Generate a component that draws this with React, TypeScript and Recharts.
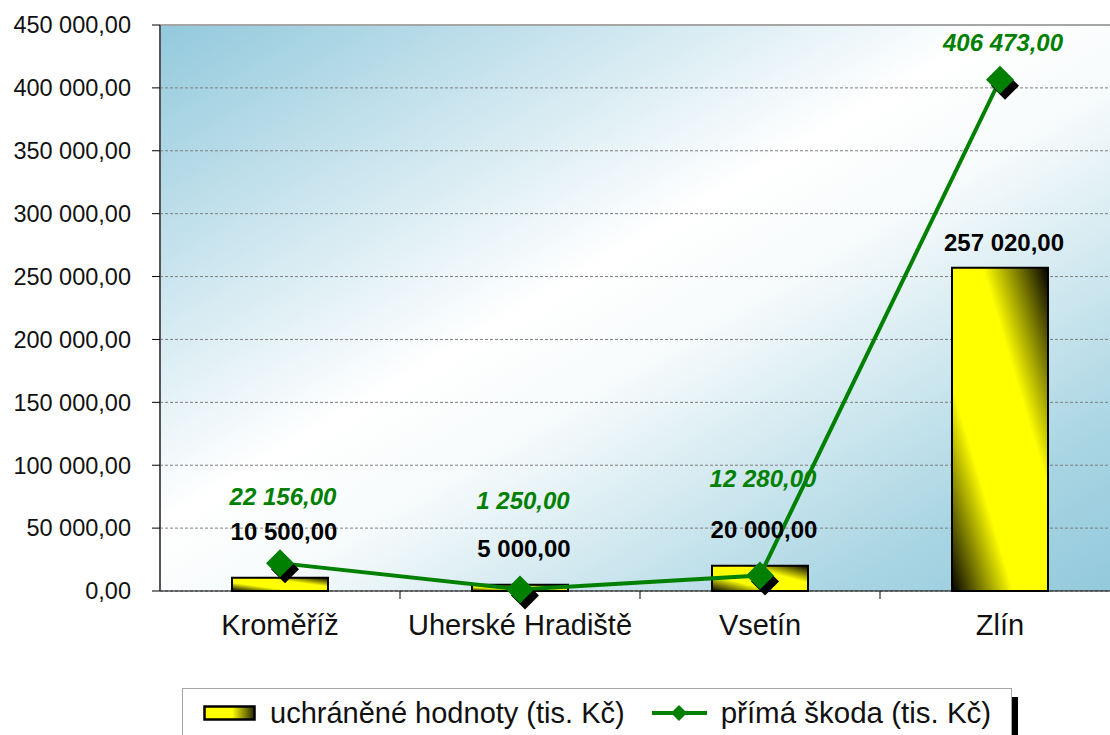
import React from 'react';
import {
  ComposedChart,
  Bar,
  Line,
  XAxis,
  YAxis,
  CartesianGrid,
  ReferenceLine,
  LabelList,
} from 'recharts';

// districts of the Zlín region
const districts = ['Kroměříž', 'Uherské Hradiště', 'Vsetín', 'Zlín'];
// uchráněné hodnoty (tis. Kč)
const savedValues = [10500, 5000, 20000, 257020];
// přímá škoda (tis. Kč)
const damageValues = [22156, 1250, 12280, 406473];
const yTicks = [0, 50000, 100000, 150000, 200000, 250000, 300000, 350000, 400000, 450000];

// how far above the mark each value label sits (Excel moved them around)
const barLabelLift = [46, 36, 36, 25];
const lineLabelLift = [66, 88, 97, 37];

const data = districts.map((name, i) => ({
  name,
  saved: savedValues[i],
  damage: damageValues[i],
}));

const FONT = 'Arial, "Liberation Sans", sans-serif';
const GREEN = '#008000';

function formatCz(v: number): string {
  const [whole, dec] = v.toFixed(2).split('.');
  return whole.replace(/\B(?=(\d{3})+(?!\d))/g, ' ') + ',' + dec;
}

function CategoryTick(props: any) {
  const { x, y, payload, index, visibleTicksCount } = props;
  const half = payload?.offset || 120;
  const isLast = index === (visibleTicksCount ?? districts.length) - 1;
  return (
    <g>
      <text
        x={x}
        y={y + 44}
        textAnchor="middle"
        fontFamily={FONT}
        fontSize={29}
        fill="#111"
      >
        {payload.value}
      </text>
      {!isLast && (
        <line x1={x + half} x2={x + half} y1={y} y2={y + 8} stroke="#000" strokeWidth={1} />
      )}
    </g>
  );
}

function BarValueLabel(props: any) {
  const { x, y, width, value, index } = props;
  const lift = barLabelLift[index ?? 0] ?? 30;
  return (
    <text
      x={x + width / 2 + 4}
      y={y - lift + 8}
      textAnchor="middle"
      fontFamily={FONT}
      fontSize={24}
      fontWeight="bold"
      fill="#000"
    >
      {formatCz(value)}
    </text>
  );
}

function LineValueLabel(props: any) {
  const { x, y, value, index } = props;
  const lift = lineLabelLift[index ?? 0] ?? 36;
  return (
    <text
      x={x + 3}
      y={y - lift + 8}
      textAnchor="middle"
      fontFamily={FONT}
      fontSize={24}
      fontWeight="bold"
      fontStyle="italic"
      fill={GREEN}
    >
      {formatCz(value)}
    </text>
  );
}

function Diamond(props: any) {
  const { cx, cy } = props;
  if (cx == null || cy == null) return null;
  const r = 14;
  const path = (dx: number, dy: number) =>
    `M${cx + dx},${cy + dy - r} L${cx + dx + r},${cy + dy} L${cx + dx},${cy + dy + r} L${cx + dx - r},${cy + dy} Z`;
  return (
    <g>
      <path d={path(5, 6)} fill="#000" />
      <path d={path(0, 0)} fill={GREEN} />
    </g>
  );
}

function ChartLegend() {
  return (
    <div
      style={{
        position: 'absolute',
        left: 182,
        top: 688,
        width: 830,
        height: 70,
        boxSizing: 'border-box',
        border: '1px solid #a6a6a6',
        background: '#fff',
        boxShadow: '6px 9px 0 #000',
        fontFamily: FONT,
        fontSize: 29,
        color: '#111',
      }}
    >
      <div style={{ position: 'absolute', left: 20, top: 7, display: 'flex', alignItems: 'center', whiteSpace: 'nowrap' }}>
        <svg width={53} height={16} style={{ marginRight: 14 }}>
          <defs>
            <linearGradient id="legendBar" x1="0" y1="0" x2="1" y2="0">
              <stop offset="0" stopColor="#ffff00" />
              <stop offset="0.55" stopColor="#ffff00" />
              <stop offset="1" stopColor="#262600" />
            </linearGradient>
          </defs>
          <rect x={1.5} y={1.5} width={50} height={13} fill="url(#legendBar)" stroke="#000" strokeWidth={2.5} />
        </svg>
        <span>uchráněné hodnoty (tis. Kč)</span>
        <svg width={55} height={20} style={{ marginLeft: 27, marginRight: 14 }}>
          <line x1={0} x2={55} y1={10} y2={10} stroke={GREEN} strokeWidth={4} />
          <path d="M27,2 L35,10 L27,18 L19,10 Z" fill={GREEN} />
        </svg>
        <span style={{ fontSize: 29.5 }}>přímá škoda (tis. Kč)</span>
      </div>
    </div>
  );
}

export default function App() {
  return (
    <div style={{ position: 'absolute', left: 0, top: 0, width: 1110, height: 735, overflow: 'hidden', background: '#fff' }}>
      <ComposedChart
        width={1130}
        height={680}
        data={data}
        margin={{ top: 25, right: 10, bottom: 0, left: 0 }}
      >
        <defs>
          <linearGradient id="plotBg" x1="0" y1="0" x2="1" y2="1">
            <stop offset="0" stopColor="#92c9dc" />
            <stop offset="0.44" stopColor="#ffffff" />
            <stop offset="0.55" stopColor="#f7fbfc" />
            <stop offset="0.85" stopColor="#a9d5e3" />
            <stop offset="1" stopColor="#92c9dc" />
          </linearGradient>
          <linearGradient id="barFill" x1="0" y1="1" x2="1" y2="0">
            <stop offset="0" stopColor="#000000" />
            <stop offset="0.32" stopColor="#ffff00" />
            <stop offset="0.66" stopColor="#ffff00" />
            <stop offset="1" stopColor="#000000" />
          </linearGradient>
        </defs>
        <CartesianGrid
          vertical={false}
          fill="url(#plotBg)"
          stroke="#7f7f7f"
          strokeDasharray="3 2"
        />
        <XAxis
          dataKey="name"
          height={89}
          tickLine={false}
          tickSize={0}
          tickMargin={0}
          axisLine={{ stroke: '#000', strokeWidth: 1 }}
          tick={<CategoryTick />}
          interval={0}
        />
        <YAxis
          width={160}
          domain={[0, 450000]}
          ticks={yTicks}
          interval={0}
          tickFormatter={formatCz}
          tickSize={8}
          tickMargin={21}
          axisLine={{ stroke: '#555', strokeWidth: 2 }}
          tickLine={{ stroke: '#000' }}
          tick={{ fontFamily: FONT, fontSize: 23.5, fill: '#111' }}
        />
        <ReferenceLine y={450000} stroke="#a6a6a6" strokeWidth={2} />
        <Bar
          dataKey="saved"
          name="uchráněné hodnoty (tis. Kč)"
          barSize={96}
          fill="url(#barFill)"
          stroke="#000"
          strokeWidth={2}
          isAnimationActive={false}
        >
          <LabelList dataKey="saved" content={<BarValueLabel />} />
        </Bar>
        <Line
          dataKey="damage"
          name="přímá škoda (tis. Kč)"
          type="linear"
          stroke={GREEN}
          strokeWidth={4}
          dot={<Diamond />}
          activeDot={false}
          isAnimationActive={false}
        >
          <LabelList dataKey="damage" content={<LineValueLabel />} />
        </Line>
      </ComposedChart>
      <ChartLegend />
    </div>
  );
}
